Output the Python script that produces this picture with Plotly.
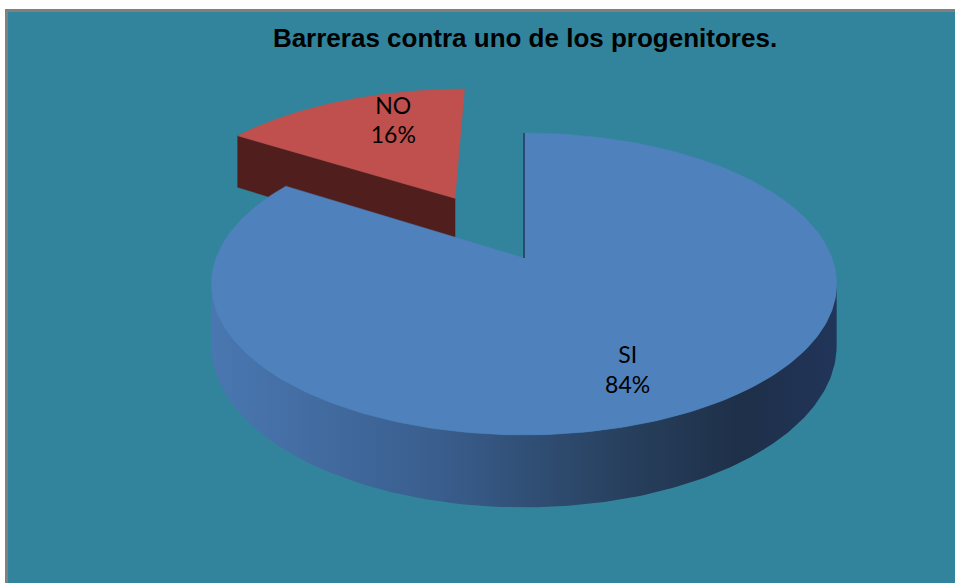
import numpy as np
import plotly.graph_objects as go

# ---- data ----
categories = ["SI", "NO"]
values = [84, 16]
title_text = "Barreras contra uno de los progenitores."

# ---- styles ----
top_colors = {"SI": "#4F81BD", "NO": "#C0504D"}
side_colors = {"SI": "#2B4870", "NO": "#4F1E1D"}
explode = {"SI": 0.0, "NO": 0.5}
wall_scale = [[0, "#4A77B1"], [0.35, "#3A5F8F"], [0.65, "#28415F"], [0.85, "#1E2F48"], [1, "#21355A"]]
BG = "#31849B"
W, H = 955, 583

# pseudo-perspective camera (screen pixel space)
cx, cy = 524, 258
s, t, k, depth = 308, 146.5, 0.172, 60


def proj(u, v, z=0.0):
    den = 1 + k * v
    return cx + s * u / den, cy - t * v / den + z * depth / den


total = sum(values)
fig = go.Figure()

# slice angle ranges (clockwise from 12 o'clock)
ranges = []
acc = 0.0
for c, val in zip(categories, values):
    a0 = acc
    a1 = acc + 360 * val / total
    ranges.append((c, val, a0, a1))
    acc = a1

th_lo = np.degrees(np.arccos(-k))
th_hi = 360 - th_lo

geo = {}
for c, val, a0, a1 in ranges:
    mid = np.radians((a0 + a1) / 2)
    ou, ov = explode[c] * np.sin(mid), explode[c] * np.cos(mid)
    geo[c] = (ou, ov, a0, a1)

order = ["NO", "SI"]  # back to front
for c in order:
    ou, ov, a0, a1 = geo[c]
    # radial faces (visible when outward normal points to the viewer)
    for edge, is_start in ((a0, True), (a1, False)):
        th = np.radians(edge)
        nv = np.sin(th) if is_start else -np.sin(th)
        if nv < -0.01:
            ru, rv = ou + np.sin(th), ov + np.cos(th)
            pts = [proj(ou, ov), proj(ru, rv), proj(ru, rv, 1), proj(ou, ov, 1)]
            xs = [p[0] for p in pts] + [pts[0][0]]
            ys = [p[1] for p in pts] + [pts[0][1]]
            fig.add_trace(go.Scatter(x=xs, y=ys, fill="toself", mode="lines",
                                     line=dict(width=0.5, color=side_colors[c]),
                                     fillcolor=side_colors[c], hoverinfo="skip", showlegend=False))
    # outer wall
    w0, w1 = max(a0, th_lo), min(a1, th_hi)
    if w1 > w0:
        th = np.radians(np.linspace(w0, w1, 200))
        uu, vv = ou + np.sin(th), ov + np.cos(th)
        topp = [proj(u, v) for u, v in zip(uu, vv)]
        bot = [proj(u, v, 1) for u, v in zip(uu, vv)][::-1]
        pts = topp + bot
        xs = [p[0] for p in pts] + [pts[0][0]]
        ys = [p[1] for p in pts] + [pts[0][1]]
        fig.add_trace(go.Scatter(x=xs, y=ys, fill="toself", mode="lines",
                                 line=dict(width=0),
                                 fillgradient=dict(type="horizontal", colorscale=wall_scale),
                                 hoverinfo="skip", showlegend=False))
    # top face
    th = np.radians(np.linspace(a0, a1, 300))
    pts = [proj(ou, ov)] + [proj(ou + np.sin(a), ov + np.cos(a)) for a in th] + [proj(ou, ov)]
    fig.add_trace(go.Scatter(x=[p[0] for p in pts], y=[p[1] for p in pts], fill="toself",
                             mode="lines", line=dict(width=0.5, color=top_colors[c]),
                             fillcolor=top_colors[c], hoverinfo="skip", showlegend=False))
    if c == "SI":
        e = np.radians(a0)
        p0, p1 = proj(ou, ov), proj(ou + np.sin(e), ov + np.cos(e))
        fig.add_trace(go.Scatter(x=[p0[0], p1[0]], y=[p0[1], p1[1]], mode="lines",
                                 line=dict(width=2, color="#2A4A73"),
                                 hoverinfo="skip", showlegend=False))

# labels
label_r = {"SI": 0.75, "NO": 0.71}
label_rot = {"SI": 5.5, "NO": 7}
for c, val, a0, a1 in ranges:
    ou, ov, _, _ = geo[c]
    mid = np.radians((a0 + a1) / 2 + label_rot[c])
    x, y = proj(ou + label_r[c] * np.sin(mid), ov + label_r[c] * np.cos(mid))
    fig.add_trace(go.Scatter(x=[x], y=[y], mode="text",
                             text=[f"{c}<br>{round(100 * val / total)}%"],
                             textfont=dict(family="Lato, Carlito, 'Open Sans', sans-serif", size=23, color="#000000"),
                             hoverinfo="skip", showlegend=False))

shapes = [
    dict(type="rect", x0=0, x1=W, y0=0, y1=9, fillcolor="white", line_width=0, layer="below"),
    dict(type="rect", x0=0, x1=5, y0=0, y1=H, fillcolor="white", line_width=0, layer="below"),
    dict(type="rect", x0=5, x1=W, y0=9, y1=12, fillcolor="#808080", line_width=0, layer="below"),
    dict(type="rect", x0=5, x1=8, y0=9, y1=H, fillcolor="#808080", line_width=0, layer="below"),
]

fig.update_layout(
    width=W, height=H, autosize=False,
    margin=dict(l=0, r=0, t=0, b=0),
    paper_bgcolor=BG, plot_bgcolor=BG,
    xaxis=dict(range=[0, W], visible=False, fixedrange=True),
    yaxis=dict(range=[H, 0], visible=False, fixedrange=True),
    shapes=shapes,
    title=dict(text=f"<b>{title_text}</b>", x=525 / W, xanchor="center",
               y=1 - 38 / H, yanchor="middle",
               font=dict(family="Liberation Sans, Arial, sans-serif", size=26, color="#000000")),
    showlegend=False,
)

page_css = ("html,body{margin:0;padding:0;overflow:hidden;background:" + BG + ";}"
            "::-webkit-scrollbar{display:none;width:0;height:0;}")
fig.write_html("out.html", config={"displayModeBar": False},
               post_script=("var st=document.createElement('style');"
                            "st.textContent='" + page_css + "';"
                            "document.head.appendChild(st);"))
